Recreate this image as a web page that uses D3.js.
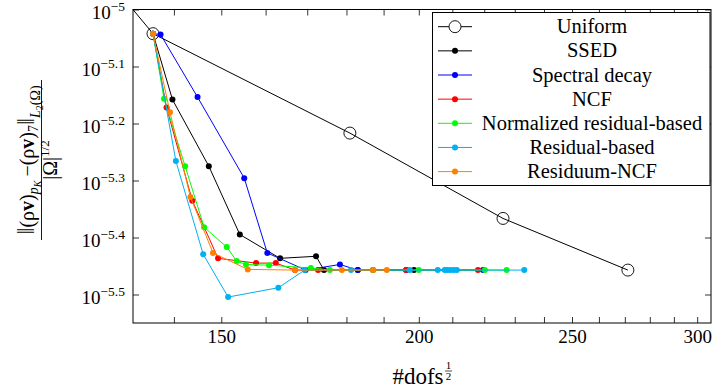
<!DOCTYPE html>
<html>
<head>
<meta charset="utf-8">
<script src="https://cdn.jsdelivr.net/npm/d3@7/dist/d3.min.js"></script>
<style>
html,body{margin:0;padding:0;background:#fff;}
svg{display:block;}
svg text{font-family:"Liberation Serif","DejaVu Serif",serif;}
</style>
</head>
<body>
<svg id="chart" width="713" height="392"></svg>
<script>
// ---------- data (x = #dofs^(1/2), y = scaled L2 error) ----------
const seriesNames = ["Uniform","SSED","Spectral decay","NCF","Normalized residual-based","Residual-based","Residuum-NCF"];
const seriesColors = ["#000000","#000000","#0000ff","#ff0000","#00ff00","#00b0f0","#ff8000"];

const uniformX = [90.7,135.8,180.9,226.1,271.2];
const uniformY = [3.48e-5,9.07e-6,6.07e-6,4.30e-6,3.49e-6];

const ssedX = [135.8,139.7,147.3,154.1,163.4,172.2,174.2,183.0,198.6];
const ssedY = [9.07e-6,6.95e-6,5.31e-6,4.03e-6,3.66e-6,3.69e-6,3.49e-6,3.49e-6,3.49e-6];

const spectralX = [135.8,137.3,144.9,155.1,160.4,169.6,178.3,183.0,196.4,219.6];
const spectralY = [9.07e-6,9.04e-6,7.02e-6,5.06e-6,3.74e-6,3.49e-6,3.57e-6,3.49e-6,3.49e-6,3.49e-6];

const ncfX = [135.8,138.5,143.8,149.3,157.8,162.4,167.0,172.7,187.1,196.3,218.0];
const ncfY = [9.07e-6,6.73e-6,4.62e-6,3.66e-6,3.59e-6,3.59e-6,3.49e-6,3.49e-6,3.49e-6,3.49e-6,3.49e-6];

const normResX = [135.8,138.0,142.3,146.3,151.2,153.4,155.5,160.8,170.9,175.7,187.1,200.0,220.2,227.3];
const normResY = [9.07e-6,6.97e-6,5.31e-6,4.15e-6,3.83e-6,3.62e-6,3.57e-6,3.56e-6,3.52e-6,3.49e-6,3.49e-6,3.49e-6,3.49e-6,3.49e-6];

const residualX = [135.8,140.4,146.1,151.5,163.0,169.4,181.2,197.4,205.6,207.7,208.5,209.4,210.4,211.4,233.2];
const residualY = [9.07e-6,5.42e-6,3.72e-6,3.13e-6,3.25e-6,3.49e-6,3.49e-6,3.49e-6,3.49e-6,3.49e-6,3.49e-6,3.49e-6,3.49e-6,3.49e-6,3.49e-6];

const residuumNcfX = [135.8,139.2,143.4,148.2,155.9,167.0,178.8,187.1,190.9];
const residuumNcfY = [9.07e-6,6.60e-6,4.69e-6,3.74e-6,3.50e-6,3.49e-6,3.49e-6,3.49e-6,3.49e-6];

const xTickValues = [140,150,160,170,180,190,200,210,220,230,240,250,260,270,280,290,300];
const xTickLabels = [150,200,250,300];
const yTickExponents = [-5,-5.1,-5.2,-5.3,-5.4,-5.5];

const seriesX = [uniformX,ssedX,spectralX,ncfX,normResX,residualX,residuumNcfX];
const seriesY = [uniformY,ssedY,spectralY,ncfY,normResY,residualY,residuumNcfY];

// ---------- layout ----------
const FONT = "Liberation Serif";
const L = 133, R = 711, T = 9.5, B = 323;
const svg = d3.select("#chart");

const x = d3.scaleLog().domain([131.9, 306.1]).range([L, R]);
const y = d3.scaleLog().domain([Math.pow(10,-5.55), Math.pow(10,-5)]).range([B, T]);

svg.append("defs").append("clipPath").attr("id","clip")
  .append("rect").attr("x",L).attr("y",T).attr("width",R-L).attr("height",B-T);

// axes ticks
const fmtX = d => xTickLabels.includes(d) ? String(d) : "";
const gxb = svg.append("g").attr("transform",`translate(0,${B})`)
  .call(d3.axisBottom(x).tickValues(xTickValues).tickFormat(fmtX).tickSize(-6).tickPadding(7));
const gxt = svg.append("g").attr("transform",`translate(0,${T})`)
  .call(d3.axisTop(x).tickValues(xTickValues).tickFormat("").tickSize(-6));
const yTickVals = yTickExponents.map(e => Math.pow(10,e));
const gyl = svg.append("g").attr("transform",`translate(${L},0)`)
  .call(d3.axisLeft(y).tickValues(yTickVals).tickFormat("").tickSize(-6));
const gyr = svg.append("g").attr("transform",`translate(${R},0)`)
  .call(d3.axisRight(y).tickValues(yTickVals).tickFormat("").tickSize(-6));
[gxb,gxt,gyl,gyr].forEach(g => {
  g.attr("font-family",FONT);
  g.select(".domain").remove();
  g.selectAll(".tick line").attr("stroke","#000").attr("stroke-width",0.8);
});
gxb.selectAll(".tick text").attr("font-size",19).attr("font-family",FONT).attr("fill","#000");

// y tick labels 10^e
yTickExponents.forEach(e => {
  const t = svg.append("text").attr("x",125).attr("y",y(Math.pow(10,e))+9)
    .attr("text-anchor","end").attr("font-size",19).attr("font-family",FONT).attr("fill","#000");
  t.append("tspan").text("10");
  t.append("tspan").attr("font-size",13.5).attr("dy",-7.5)
    .text("\u2212" + String(-e));
});

// frame
svg.append("rect").attr("x",L).attr("y",T).attr("width",R-L).attr("height",B-T)
  .attr("fill","none").attr("stroke","#000").attr("stroke-width",1);

// series
const line = d3.line().x(d => x(d[0])).y(d => y(d[1]));
const plot = svg.append("g").attr("clip-path","url(#clip)");
seriesNames.forEach((name,i) => {
  const pts = seriesX[i].map((v,j) => [v, seriesY[i][j]]);
  const g = plot.append("g");
  g.append("path").datum(pts).attr("d",line).attr("fill","none")
    .attr("stroke",seriesColors[i]).attr("stroke-width",1);
  if (i === 0) {
    g.selectAll("circle").data(pts).join("circle")
      .attr("cx",d=>x(d[0])).attr("cy",d=>y(d[1])).attr("r",6)
      .attr("fill","none").attr("stroke","#000").attr("stroke-width",0.9);
  } else {
    g.selectAll("circle").data(pts).join("circle")
      .attr("cx",d=>x(d[0])).attr("cy",d=>y(d[1])).attr("r",3)
      .attr("fill",seriesColors[i]);
  }
});

// legend
const lg = svg.append("g");
lg.append("rect").attr("x",432.5).attr("y",12.5).attr("width",277.5).attr("height",173)
  .attr("fill","#fff").attr("stroke","#000").attr("stroke-width",1);
seriesNames.forEach((name,i) => {
  const cy = 26.7 + i*24.15;
  lg.append("line").attr("x1",438).attr("x2",472).attr("y1",cy).attr("y2",cy)
    .attr("stroke",seriesColors[i]).attr("stroke-width",1);
  if (i === 0) {
    lg.append("circle").attr("cx",455).attr("cy",cy).attr("r",6)
      .attr("fill","#fff").attr("stroke","#000").attr("stroke-width",0.9);
  } else {
    lg.append("circle").attr("cx",455).attr("cy",cy).attr("r",3).attr("fill",seriesColors[i]);
  }
  lg.append("text").attr("x",592).attr("y",cy+6.5).attr("text-anchor","middle")
    .attr("font-size",20.5).attr("font-family",FONT).attr("fill","#000").text(name);
});

// x axis title: #dofs^(1/2)
const xt = svg.append("text").attr("x",418).attr("y",384).attr("text-anchor","middle")
  .attr("font-size",23).attr("font-family",FONT).attr("fill","#000").text("#dofs");
const xtw = xt.node().getComputedTextLength();
const sx = 418 + xtw/2 + 5;
svg.append("text").attr("x",sx).attr("y",369).attr("text-anchor","middle").attr("font-size",11).attr("font-family",FONT).text("1");
svg.append("line").attr("x1",sx-3.5).attr("x2",sx+3.5).attr("y1",371).attr("y2",371).attr("stroke","#000").attr("stroke-width",0.7);
svg.append("text").attr("x",sx).attr("y",380).attr("text-anchor","middle").attr("font-size",11).attr("font-family",FONT).text("2");

// y axis title (rotated fraction)
const yt = svg.append("g").attr("transform","translate(41.5,160) rotate(-90)");
yt.append("line").attr("x1",-80).attr("x2",80).attr("y1",0).attr("y2",0)
  .attr("stroke","#000").attr("stroke-width",0.9);
const num = yt.append("text").attr("x",0).attr("y",-8).attr("text-anchor","middle")
  .attr("font-size",20).attr("font-family",FONT).attr("fill","#000");
num.append("tspan").attr("font-size",25).text("\u2016");
num.append("tspan").text("(\u03C1");
num.append("tspan").attr("font-weight","bold").text("v");
num.append("tspan").text(")");
num.append("tspan").attr("font-size",14).attr("font-style","italic").attr("dy",4).text("p");
num.append("tspan").attr("font-size",10).attr("font-style","italic").attr("dy",3).text("K");
num.append("tspan").attr("dy",-7).text("\u2009\u2212(\u03C1");
num.append("tspan").attr("font-weight","bold").text("v");
num.append("tspan").text(")");
num.append("tspan").attr("font-size",14).attr("dy",4).text("7");
num.append("tspan").attr("font-size",25).attr("dy",-4).text("\u2016");
num.append("tspan").attr("font-size",14).attr("font-style","italic").attr("dy",6).text("L");
num.append("tspan").attr("font-size",10).attr("dy",3).text("2");
num.append("tspan").attr("font-size",14).attr("dy",-3).text("(\u03A9)");
const den = yt.append("text").attr("x",0).attr("y",15).attr("text-anchor","middle")
  .attr("font-size",20).attr("font-family",FONT).attr("fill","#000");
den.append("tspan").text("|\u03A9|");
den.append("tspan").attr("font-size",13).attr("dy",-8).text("1/2");
</script>
</body>
</html>
